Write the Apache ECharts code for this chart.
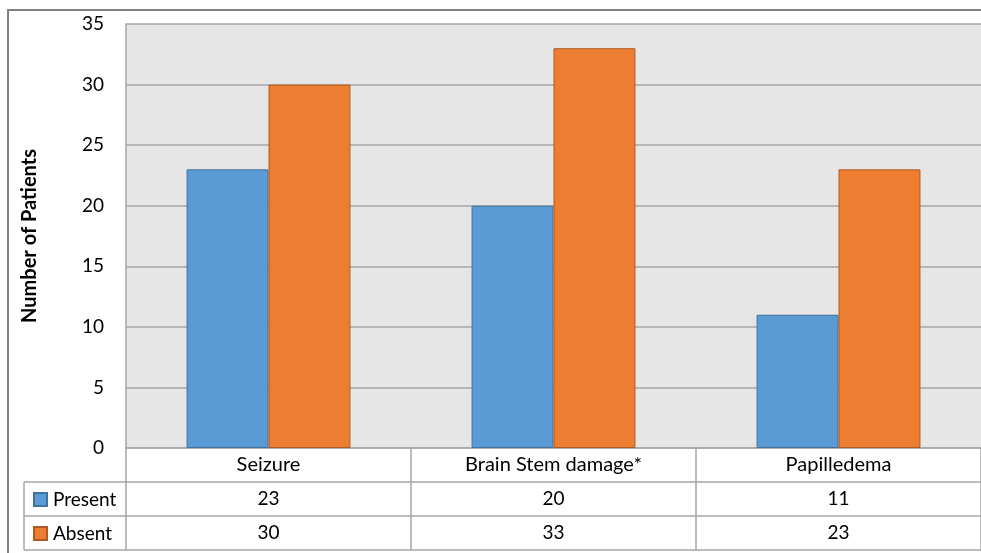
<!DOCTYPE html>
<html>
<head>
<meta charset="utf-8">
<script src="https://cdn.jsdelivr.net/npm/echarts@6/dist/echarts.min.js"></script>
<style>
  html, body { margin: 0; padding: 0; background: #fff; }
  #chart { width: 981px; height: 553px; }
</style>
</head>
<body>
<div id="chart"></div>
<script>
// Clinical findings by status
const categories = ['Seizure', 'Brain Stem damage*', 'Papilledema'];
const presentValues = [23, 20, 11];
const absentValues = [30, 33, 23];
const seriesNames = ['Present', 'Absent'];
const yTicks = { min: 0, max: 35, step: 5 };

const FONT = 'Lato, "Open Sans", sans-serif';
const BLUE = '#5B9BD5', ORANGE = '#ED7D31';
const GRID_LINE = '#A6A6A6';

// plot area and data-table row geometry
const plot = { left: 126, top: 24, width: 858, height: 424 };
const rowH = 34;
const tableBottom = plot.top + plot.height + rowH * 3;

const chart = echarts.init(document.getElementById('chart'), null, { renderer: 'canvas' });

function tableAxis(data, offset, showLabel) {
  return {
    type: 'category',
    gridIndex: 0,
    position: 'bottom',
    offset: offset,
    data: data,
    axisLine: { show: true, lineStyle: { color: GRID_LINE, width: 1.5 } },
    axisTick: { show: showLabel, alignWithLabel: false, interval: 0, length: rowH, lineStyle: { color: GRID_LINE, width: 1.5 } },
    axisLabel: { show: showLabel, interval: 0, color: '#000', fontFamily: FONT, fontSize: 19, margin: 7 },
    splitLine: { show: false }
  };
}

const option = {
  animation: false,
  backgroundColor: '#fff',
  grid: {
    left: plot.left, top: plot.top, width: plot.width, height: plot.height,
    show: true, backgroundColor: '#E6E6E6', borderWidth: 0
  },
  legend: seriesNames.map((name, i) => ({
    data: [name],
    left: 33,
    top: plot.top + plot.height + rowH * (i + 1) + 8,
    padding: 0,
    icon: 'rect',
    itemWidth: 13,
    itemHeight: 13,
    selectedMode: false,
    textStyle: { color: '#000', fontFamily: FONT, fontSize: 19, padding: [0, 0, 0, 1] }
  })),
  yAxis: {
    type: 'value',
    min: yTicks.min,
    max: yTicks.max,
    interval: yTicks.step,
    name: 'Number of Patients',
    nameLocation: 'middle',
    nameRotate: 90,
    nameGap: 86,
    nameTextStyle: { color: '#000', fontFamily: FONT, fontSize: 20, fontWeight: 'bold' },
    axisLine: { show: true, lineStyle: { color: GRID_LINE, width: 1.5 } },
    axisTick: { show: false },
    axisLabel: { color: '#000', fontFamily: FONT, fontSize: 19, margin: 22 },
    splitLine: { show: true, lineStyle: { color: GRID_LINE, width: 1.5 } }
  },
  xAxis: [
    {
      type: 'category',
      gridIndex: 0,
      position: 'bottom',
      data: categories,
      axisLine: { show: true, lineStyle: { color: GRID_LINE, width: 1.5 } },
      axisTick: { show: true, alignWithLabel: false, interval: 0, length: rowH, lineStyle: { color: GRID_LINE, width: 1.5 } },
      axisLabel: { interval: 0, color: '#000', fontFamily: FONT, fontSize: 20, margin: 7 },
      splitLine: { show: false }
    },
    tableAxis(presentValues.map(String), rowH, true),
    tableAxis(absentValues.map(String), rowH * 2, true),
    tableAxis(categories, rowH * 3, false)
  ],
  series: [
    {
      name: seriesNames[0],
      type: 'bar',
      xAxisIndex: 0,
      data: presentValues,
      barGap: '0%',
      barCategoryGap: '42.5%',
      itemStyle: { color: BLUE, borderColor: '#41719C', borderWidth: 1 }
    },
    {
      name: seriesNames[1],
      type: 'bar',
      xAxisIndex: 0,
      data: absentValues,
      itemStyle: { color: ORANGE, borderColor: '#AE5A21', borderWidth: 1 }
    }
  ],
  graphic: [
    // outer chart frame
    { type: 'rect', shape: { x: 8, y: 10, width: 1000, height: 600 }, style: { fill: null, stroke: '#808080', lineWidth: 2 }, silent: true },
    // legend-key column of the data table
    { type: 'line', shape: { x1: 24, y1: plot.top + plot.height + rowH, x2: 24, y2: tableBottom }, style: { stroke: GRID_LINE, lineWidth: 1.5 }, silent: true },
    { type: 'line', shape: { x1: 24, y1: plot.top + plot.height + rowH, x2: plot.left, y2: plot.top + plot.height + rowH }, style: { stroke: GRID_LINE, lineWidth: 1.5 }, silent: true },
    { type: 'line', shape: { x1: 24, y1: plot.top + plot.height + rowH * 2, x2: plot.left, y2: plot.top + plot.height + rowH * 2 }, style: { stroke: GRID_LINE, lineWidth: 1.5 }, silent: true },
    { type: 'line', shape: { x1: 24, y1: tableBottom, x2: plot.left, y2: tableBottom }, style: { stroke: GRID_LINE, lineWidth: 1.5 }, silent: true }
  ]
};

chart.setOption(option);
</script>
</body>
</html>
